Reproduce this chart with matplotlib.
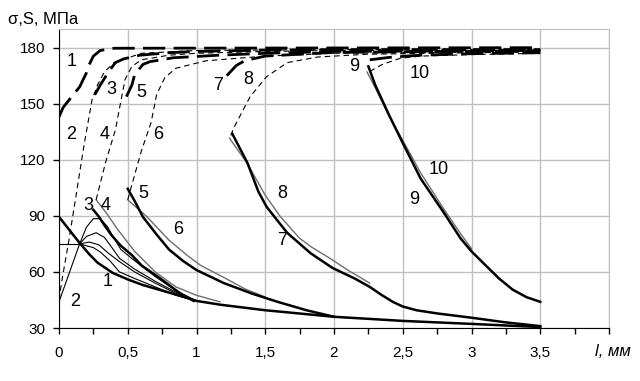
import matplotlib
matplotlib.use('Agg')
import matplotlib.pyplot as plt
from matplotlib.ticker import FixedLocator

plt.rcParams['font.family'] = ['Liberation Sans', 'DejaVu Sans']

# --- solid curves (sigma) ---
s1_x = [0, 0.08, 0.15, 0.22, 0.28, 0.39, 0.5, 0.61, 0.75, 0.86, 1.0, 1.17, 1.5, 2.0, 2.5, 3.0, 3.5]
s1_y = [89.5, 82, 75.5, 69.5, 65, 59.5, 56, 53, 50, 47.7, 44.5, 42.5, 39.5, 36, 33.8, 32.2, 30.5]

s2_x = [0, 0.15]
s2_y = [44, 75]
s2h_x = [0, 0.15]
s2h_y = [75, 75]
s2a_x = [0.15, 0.2, 0.25, 0.3, 0.35, 0.4, 0.45, 0.55, 0.7, 0.85, 1.0]
s2a_y = [75, 84, 88.5, 88.5, 84.5, 78, 72, 66, 57.5, 50, 44.5]
s2b_x = [0.15, 0.2, 0.27, 0.33, 0.39, 0.44, 0.55, 0.7, 0.85, 1.0]
s2b_y = [75, 79, 81, 78.5, 72.5, 67.3, 61.5, 55, 49.2, 44.5]
s2c_x = [0.15, 0.22, 0.29, 0.36, 0.44, 0.55, 0.7, 0.85, 1.0]
s2c_y = [75, 76, 74.5, 70, 65.5, 60, 54, 48.5, 44.5]
s2d_x = [0.15, 0.25, 0.3, 0.37, 0.44, 0.55, 0.7, 0.85, 1.0]
s2d_y = [75, 73, 70.7, 66, 60, 56.5, 52, 47.5, 44.5]

s3_x = [0.25, 0.29, 0.33, 0.38, 0.45, 0.53, 0.6, 0.735, 0.88, 0.98]
s3_y = [93.2, 89.6, 85, 79.8, 74, 69, 63.5, 56.6, 48.6, 44.5]
s4_x = [0.27, 0.35, 0.42, 0.55, 0.7, 0.85, 1.0, 1.17]
s4_y = [98.6, 91, 83.4, 71, 60, 52, 47.5, 44]

s5_x = [0.5, 0.55, 0.61, 0.71, 0.8, 0.9, 1.0, 1.2, 1.4, 1.59, 1.8, 2.0]
s5_y = [104.5, 98, 89.5, 80, 72, 66, 61, 54, 48.5, 44, 39.5, 36]
s6_x = [0.5, 0.64, 0.8, 0.93, 1.03, 1.2, 1.35, 1.5]
s6_y = [98.6, 89.5, 77, 69, 63.5, 57, 51, 46.6]

s7_x = [1.26, 1.37, 1.45, 1.51, 1.66, 1.83, 1.99, 2.15, 2.26, 2.35, 2.43, 2.5, 2.6, 2.75, 3.0, 3.25, 3.5]
s7_y = [134, 118.4, 103, 94.8, 80.9, 70, 62.1, 56.5, 52, 47.5, 43.9, 41.5, 39.5, 37.8, 35.5, 33, 31]
s8_x = [1.24, 1.37, 1.5, 1.61, 1.75, 1.83, 1.97, 2.1, 2.26]
s8_y = [131.6, 118, 101, 89.6, 78, 73.6, 67.3, 61, 54]

s9_x = [2.25, 2.3, 2.4, 2.5, 2.63, 2.8, 2.92, 3.0, 3.11, 3.2, 3.3, 3.4, 3.5]
s9_y = [170, 160, 144, 129, 110, 91.6, 78, 71, 63, 56.5, 50.5, 46.5, 44]
s10_x = [2.24, 2.3, 2.4, 2.5, 2.63, 2.8, 2.92, 3.0]
s10_y = [167, 158.5, 143.5, 130.5, 113, 93.5, 80.5, 72.5]

# --- dashed curves (S) ---
d1_x = [0, 0.03, 0.1, 0.15, 0.2, 0.22, 0.25, 0.3, 0.4, 3.5]
d1_y = [143, 148, 154.5, 159, 166.6, 171, 175.5, 178.5, 179.7, 180]
d2_x = [0, 0.02, 0.07, 0.12, 0.18, 0.24, 0.28, 0.33, 0.4, 0.6, 1.0, 2.0, 3.5]
d2_y = [45, 55, 76, 99, 127, 152, 160, 167, 172, 177, 178.5, 179, 179]
d3_x = [0.26, 0.3, 0.36, 0.41, 0.47, 0.59, 0.8, 1.0, 1.5, 2.0, 3.5]
d3_y = [154.8, 160, 167, 172, 174, 176, 177.3, 178, 178.7, 179, 179]
d4_x = [0.27, 0.34, 0.41, 0.48, 0.53, 0.6, 0.8, 1.0, 1.5, 2.0, 3.5]
d4_y = [98.6, 119, 136, 162.9, 170, 173.5, 176, 177, 178, 178.5, 178.5]
d5_x = [0.49, 0.53, 0.55, 0.61, 0.66, 0.83, 1.17, 1.5, 2.0, 3.5]
d5_y = [153.8, 160, 165.5, 171, 172.5, 174.6, 176, 177, 178, 178.5]
d6_x = [0.5, 0.52, 0.6, 0.67, 0.71, 0.77, 0.85, 1.07, 1.5, 2.0, 3.5]
d6_y = [98.6, 104, 125, 140, 155, 164, 169, 173, 175.5, 177, 178]
d7_x = [1.22, 1.29, 1.35, 1.5, 2.0, 3.5]
d7_y = [165, 170.5, 173, 175.5, 177.5, 178.3]
d8_x = [1.25, 1.27, 1.39, 1.51, 1.66, 1.88, 2.24, 3.5]
d8_y = [133, 137, 153.8, 164.5, 172, 175, 176.5, 177.8]
d9_x = [2.26, 2.4, 2.63, 3.0, 3.5]
d9_y = [173.5, 174.8, 176, 176.8, 177.3]
d10_x = [2.26, 2.35, 2.48, 2.63, 3.0, 3.5]
d10_y = [167.3, 171, 174.3, 175.5, 176.3, 177]

# curve number labels: (text, x, y)
labels = [('1', 0.09, 172.7), ('3', 0.38, 157.5), ('5', 0.6, 155.8),
          ('7', 1.16, 160), ('8', 1.38, 162.9), ('9', 2.15, 170), ('10', 2.62, 166.4),
          ('2', 0.09, 133.4), ('4', 0.335, 133.4), ('6', 0.72, 133.4),
          ('3', 0.21, 95.4), ('4', 0.34, 95.4), ('5', 0.61, 102.2), ('6', 0.87, 82.5),
          ('8', 1.62, 102.2), ('7', 1.62, 77), ('10', 2.76, 114.6), ('9', 2.58, 98.6),
          ('1', 0.35, 54.8), ('2', 0.12, 44.1)]

fig = plt.figure(figsize=(6.4, 3.81), dpi=100)
ax = fig.add_axes([59 / 640, 53 / 381, 550 / 640, 299 / 381])

thick = dict(color='black', lw=1.8)
thin = dict(color='black', lw=0.8)
gray = dict(color='#6e6e6e', lw=1.0)
thick_d = dict(color='black', lw=2.0, dashes=(8, 3))
thin_d = dict(color='black', lw=0.8, dashes=(5, 3.5))

# solid
ax.plot(s2_x, s2_y, **thin)
ax.plot(s2h_x, s2h_y, **thin)
for xs, ys in [(s2a_x, s2a_y), (s2b_x, s2b_y), (s2c_x, s2c_y), (s2d_x, s2d_y)]:
    ax.plot(xs, ys, **thin)
ax.plot(s4_x, s4_y, **gray)
ax.plot(s6_x, s6_y, **gray)
ax.plot(s8_x, s8_y, **gray)
ax.plot(s10_x, s10_y, **gray)
ax.plot(s1_x, s1_y, **thick)
ax.plot(s3_x, s3_y, **thick)
ax.plot(s5_x, s5_y, **thick)
ax.plot(s7_x, s7_y, **thick)
ax.plot(s9_x, s9_y, **thick)

# dashed
ax.plot(d2_x, d2_y, **thin_d)
ax.plot(d4_x, d4_y, **thin_d)
ax.plot(d6_x, d6_y, **thin_d)
ax.plot(d8_x, d8_y, **thin_d)
ax.plot(d10_x, d10_y, **thin_d)
ax.plot(d3_x, d3_y, **thick_d)
ax.plot(d5_x, d5_y, **thick_d)
ax.plot(d7_x, d7_y, **thick_d)
ax.plot(d9_x, d9_y, **thick_d)
ax.plot(d1_x, d1_y, **thick_d)

for t, x, y in labels:
    ax.text(x, y, t, fontsize=13, ha='center', va='center')

ax.set_xlim(0, 4)
ax.set_ylim(30, 190)
ax.xaxis.set_major_locator(FixedLocator([0, 0.5, 1, 1.5, 2, 2.5, 3, 3.5]))
ax.set_xticklabels(['0', '0,5', '1', '1,5', '2', '2,5', '3', '3,5'])
ax.xaxis.set_minor_locator(FixedLocator([0.25, 0.75, 1.25, 1.75, 2.25, 2.75, 3.25, 3.75, 4.0]))
ax.yaxis.set_major_locator(FixedLocator([30, 60, 90, 120, 150, 180]))
ax.tick_params(axis='both', which='both', direction='out', length=4, width=1, labelsize=11)
ax.tick_params(axis='x', pad=9)
ax.tick_params(axis='y', pad=6)

ax.grid(True, color='#c0c0c0', lw=1)
ax.vlines([4.0], 30, 190, color='#c0c0c0', lw=1)
ax.set_axisbelow(True)
for s in ['top', 'right']:
    ax.spines[s].set_color('#c0c0c0')
ax.spines['left'].set_color('black')
ax.spines['bottom'].set_color('black')

fig.text(8 / 640, 1 - 20 / 381, 'σ,S, МПа', fontsize=12, ha='left', va='center')
fig.text(613 / 640, 1 - 352 / 381, 'l, мм', fontsize=12, style='italic', ha='center', va='center')

fig.savefig('out.png', dpi=100)
